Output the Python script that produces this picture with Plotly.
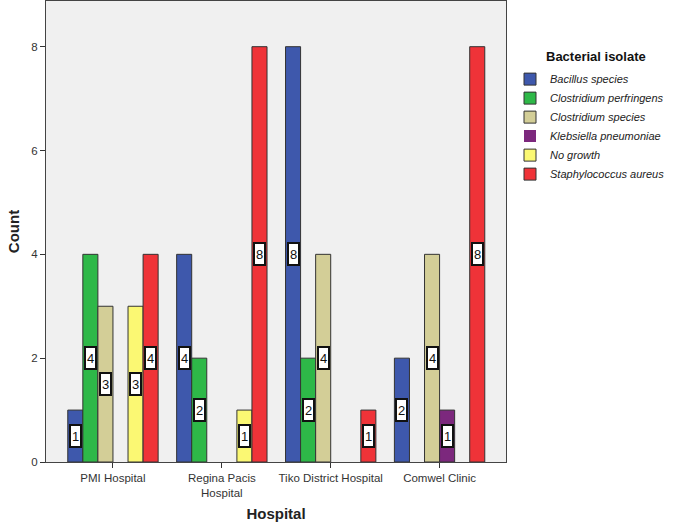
import plotly.graph_objects as go

hospitals = ["PMI Hospital", "Regina Pacis<br>Hospital", "Tiko District Hospital", "Comwel Clinic"]
isolates = ["Bacillus species", "Clostridium perfringens", "Clostridium species",
            "Klebsiella pneumoniae", "No growth", "Staphylococcus aureus"]
bacillus = [1, 4, 8, 2]
c_perfringens = [4, 2, 2, 0]
c_species = [3, 0, 4, 4]
klebsiella = [0, 0, 0, 1]
no_growth = [3, 1, 0, 0]
staph = [4, 8, 1, 8]
series = [bacillus, c_perfringens, c_species, klebsiella, no_growth, staph]
colors = ["#3E58AC", "#2EB848", "#D3CE97", "#7C287D", "#FBF873", "#EF3338"]

bargap = 0.17
n = len(series)
bw = (1 - bargap) / n

fig = go.Figure()
annotations = []
for i, (name, vals, col) in enumerate(zip(isolates, series, colors)):
    fig.add_trace(go.Bar(
        x=list(range(len(hospitals))), y=vals, name=name,
        marker=dict(color=col, line=dict(color="#333333",
                                         width=[1 if v > 0 else 0 for v in vals])),
        hoverinfo="x+y+name",
    ))
    off = (i - (n - 1) / 2) * bw
    for j, v in enumerate(vals):
        if v > 0:
            annotations.append(dict(
                x=j + off, y=v / 2, xref="x", yref="y", text=str(v), showarrow=False,
                font=dict(family="Liberation Sans, Arial", size=13, color="#111111"),
                bgcolor="white", bordercolor="#111111", borderwidth=2, borderpad=0,
                width=9, height=20,
            ))

# legend title placed as text (pixel position converted to paper coordinates)
annotations.append(dict(
    x=(596 - 46) / (673 - 46 - 167), y=(527 - 65 - 57) / (527 - 1 - 65),
    xref="paper", yref="paper", xanchor="center", yanchor="middle",
    text="<b>Bacterial isolate</b>", showarrow=False,
    font=dict(size=13, color="#111111"),
))

fig.update_layout(
    width=673, height=527,
    margin=dict(l=46, r=167, t=1, b=65),
    barmode="group", bargap=bargap, bargroupgap=0,
    plot_bgcolor="#F0F0F0", paper_bgcolor="white",
    font=dict(family="Liberation Sans, Arial", size=11.5, color="#333333"),
    annotations=annotations,
    legend=dict(
        font=dict(size=11, color="#222222", style="italic"),
        x=1.0087, xanchor="left", xref="paper", y=0.862, yanchor="top",
        itemwidth=30, tracegroupgap=0, bgcolor="rgba(0,0,0,0)",
    ),
    showlegend=True,
)
fig.update_xaxes(
    range=[-0.615, 3.61], tickmode="array", tickvals=list(range(len(hospitals))),
    ticktext=hospitals, ticks="outside", ticklen=5, tickcolor="#333333",
    showline=True, linecolor="#444444", linewidth=1, mirror=True,
    showgrid=False, zeroline=False,
    title=dict(text="<b>Hospital</b>", font=dict(size=15, color="#222222"), standoff=10),
)
fig.update_yaxes(
    range=[0, 8.88], tickvals=[0, 2, 4, 6, 8], ticks="outside", ticklen=5,
    tickcolor="#333333", showline=True, linecolor="#444444", linewidth=1, mirror=True,
    showgrid=False, zeroline=False,
    title=dict(text="<b>Count</b>", font=dict(size=15, color="#222222"), standoff=8),
)
fig.write_html("out.html")
